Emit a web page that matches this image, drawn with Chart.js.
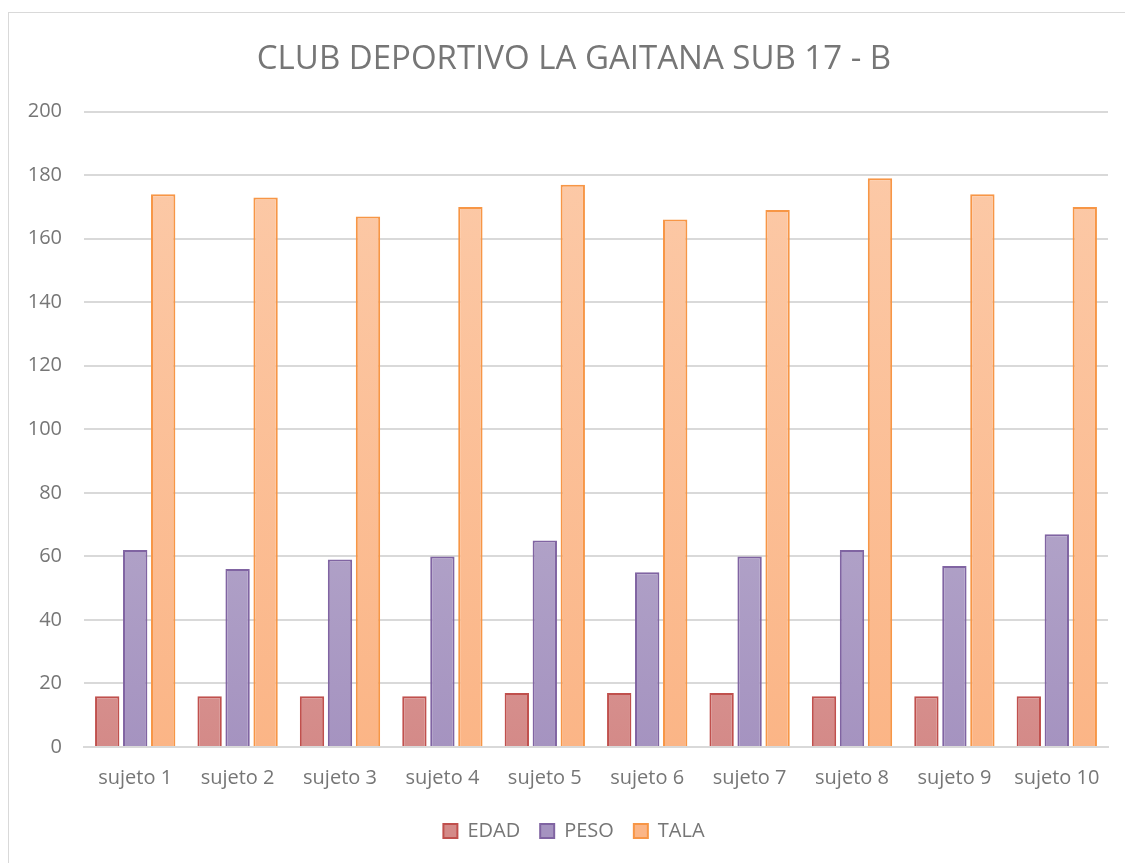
<!DOCTYPE html>
<html>
<head>
<meta charset="utf-8">
<script src="https://cdn.jsdelivr.net/npm/chart.js@4/dist/chart.umd.min.js"></script>
<style>
  body { margin: 0; background: #fff; }
  #frame { position: absolute; left: 8px; top: 12px; width: 1130px; height: 870px; border: 1px solid #d9d9d9; }
  #wrap { position: absolute; left: 0; top: 0; width: 1125px; height: 863px; }
</style>
</head>
<body>
<div id="frame"></div>
<div id="wrap"><canvas id="gaitanaChart" width="1125" height="863"></canvas></div>
<script>
const labels = ['sujeto 1', 'sujeto 2', 'sujeto 3', 'sujeto 4', 'sujeto 5', 'sujeto 6', 'sujeto 7', 'sujeto 8', 'sujeto 9', 'sujeto 10'];
const edad = [16, 16, 16, 16, 17, 17, 17, 16, 16, 16];
const peso = [62, 56, 59, 60, 65, 55, 60, 62, 57, 67];
const tala = [174, 173, 167, 170, 177, 166, 169, 179, 174, 170];

// vertical gradient, light at the top and darker at the bottom
function grad(top, bottom) {
    return function (context) {
        const area = context.chart.chartArea;
        if (!area) return bottom;
        const g = context.chart.ctx.createLinearGradient(0, area.top, 0, area.bottom);
        g.addColorStop(0, top);
        g.addColorStop(1, bottom);
        return g;
    };
}

const fontFamily = "'Open Sans', 'Liberation Sans', sans-serif";
const textColor = '#767676';

const ctx = document.getElementById('gaitanaChart').getContext('2d');
const chart = new Chart(ctx, {
    type: 'bar',
    data: {
        labels: labels,
        datasets: [{
            label: 'EDAD',
            data: edad,
            backgroundColor: grad('#e8bdbc', '#d48a88'),
            borderColor: '#c0504d',
            borderWidth: 2
        },
        {
            label: 'PESO',
            data: peso,
            backgroundColor: grad('#c6bed6', '#a593c0'),
            borderColor: '#8064a2',
            borderWidth: 2
        },
        {
            label: 'TALA',
            data: tala,
            backgroundColor: grad('#fccbaa', '#fbb586'),
            borderColor: '#f79646',
            borderWidth: 2
        }]
    },
    options: {
        responsive: false,
        animation: false,
        layout: {
            padding: { left: 23, right: 0, top: 18, bottom: 12 }
        },
        datasets: {
            bar: {
                categoryPercentage: 0.82,
                barPercentage: 0.87
            }
        },
        plugins: {
            title: {
                display: true,
                text: 'CLUB DEPORTIVO LA GAITANA SUB 17 - B',
                color: textColor,
                font: { family: fontFamily, size: 33, weight: 'normal' },
                padding: { top: 22, bottom: 32 }
            },
            legend: {
                display: true,
                position: 'bottom',
                labels: {
                    color: textColor,
                    font: { family: fontFamily, size: 20 },
                    boxWidth: 14,
                    boxHeight: 14,
                    padding: 20
                }
            },
            tooltip: { enabled: false }
        },
        scales: {
            x: {
                grid: { display: false },
                border: { color: '#d9d9d9', width: 2 },
                ticks: {
                    color: textColor,
                    font: { family: fontFamily, size: 20 },
                    padding: 11
                }
            },
            y: {
                min: 0,
                max: 200,
                ticks: {
                    stepSize: 20,
                    color: textColor,
                    font: { family: fontFamily, size: 20 },
                    padding: 22
                },
                grid: { color: '#d9d9d9', lineWidth: 2, drawTicks: false },
                border: { display: false },
                afterFit: function (scale) { scale.width = 61; }
            },
            // empty right-hand axis, only keeps a margin on the right
            yRight: {
                position: 'right',
                min: 0,
                max: 200,
                grid: { display: false },
                border: { display: false },
                ticks: { display: false },
                afterFit: function (scale) { scale.width = 17; }
            }
        }
    }
});
</script>
</body>
</html>
